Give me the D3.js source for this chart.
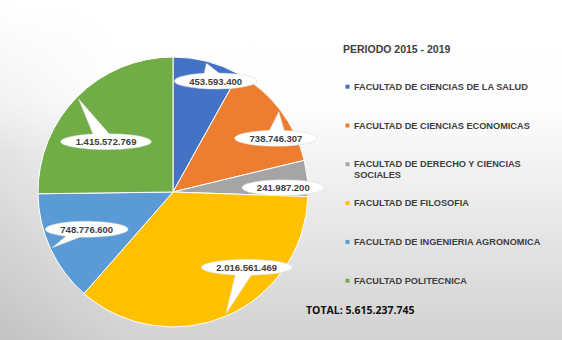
<!DOCTYPE html>
<html>
<head>
<meta charset="utf-8">
<script src="https://cdn.jsdelivr.net/npm/d3@7"></script>
<style>
  html, body { margin: 0; padding: 0; background: #fff; }
  svg { display: block; }
</style>
</head>
<body>
<svg id="chart" width="562" height="340"></svg>
<script>
// Faculties, in slice order (clockwise from 12 o'clock)
const faculties = [
  "FACULTAD DE CIENCIAS DE LA SALUD",
  "FACULTAD DE CIENCIAS ECONOMICAS",
  "FACULTAD DE DERECHO Y CIENCIAS SOCIALES",
  "FACULTAD DE FILOSOFIA",
  "FACULTAD DE INGENIERIA AGRONOMICA",
  "FACULTAD POLITECNICA"
];
// Amount per faculty for the period
const amounts = [453593400, 738746307, 241987200, 2016561469, 748776600, 1415572769];
const sliceColors = ["#4472C4", "#ED7D31", "#A5A5A5", "#FFC000", "#5B9BD5", "#70AD47"];
const periodTitle = "PERIODO 2015 - 2019";
const totalPrefix = "TOTAL: ";

// Callout bubble placement: centre offset as a fraction of the radius,
// and whether the bubble's pointer is drawn
const calloutOffsets = [[0.316, -0.822], [0.763, -0.398], [0.817, -0.032], [0.546, 0.558], [-0.639, 0.276], [-0.496, -0.373]];
const calloutPointer = [true, true, false, true, true, true];

const W = 562, H = 340;
const cx = 173, cy = 192, R = 135;

const esLocale = d3.formatLocale({ decimal: ",", thousands: ".", grouping: [3], currency: ["", ""] });
const fmt = esLocale.format(",");

const svg = d3.select("#chart");
const defs = svg.append("defs");

// Backdrop: white fading to light grey towards the bottom
const bg = defs.append("linearGradient").attr("id", "bg").attr("x1", 0).attr("y1", 0).attr("x2", 0).attr("y2", 1);
bg.append("stop").attr("offset", "0%").attr("stop-color", "#ffffff");
bg.append("stop").attr("offset", "30%").attr("stop-color", "#fefefe");
bg.append("stop").attr("offset", "100%").attr("stop-color", "#d2d2d2");
svg.append("rect").attr("width", W).attr("height", H).attr("fill", "url(#bg)");

const side = defs.append("linearGradient").attr("id", "side").attr("x1", 0).attr("y1", 0).attr("x2", 1).attr("y2", 0);
side.append("stop").attr("offset", "0%").attr("stop-color", "#000").attr("stop-opacity", 0.07);
side.append("stop").attr("offset", "100%").attr("stop-color", "#000").attr("stop-opacity", 0);
const sideFade = defs.append("linearGradient").attr("id", "sideFade").attr("x1", 0).attr("y1", 0).attr("x2", 0).attr("y2", 1);
sideFade.append("stop").attr("offset", "0%").attr("stop-color", "#fff").attr("stop-opacity", 0);
sideFade.append("stop").attr("offset", "45%").attr("stop-color", "#fff").attr("stop-opacity", 1);
sideFade.append("stop").attr("offset", "100%").attr("stop-color", "#fff").attr("stop-opacity", 1);
const mask = defs.append("mask").attr("id", "sideMask");
mask.append("rect").attr("width", 120).attr("height", H).attr("fill", "url(#sideFade)");
svg.append("rect").attr("width", 120).attr("height", H).attr("fill", "url(#side)").attr("mask", "url(#sideMask)");

// Pie
const pie = d3.pie().sort(null).value(d => d);
const arcs = pie(amounts);
const arc = d3.arc().innerRadius(0).outerRadius(R);

const g = svg.append("g").attr("transform", `translate(${cx},${cy})`);
g.selectAll("path.slice")
  .data(arcs)
  .join("path")
  .attr("class", "slice")
  .attr("d", arc)
  .attr("fill", (d, i) => sliceColors[i])
  .attr("stroke", "#ffffff")
  .attr("stroke-width", 1);

// Callout bubbles: ellipse with a wedge pointing into the slice
const callouts = g.selectAll("g.callout")
  .data(arcs)
  .join("g")
  .attr("class", "callout");

callouts.each(function (d, i) {
  const grp = d3.select(this);
  const ox = calloutOffsets[i][0] * R, oy = calloutOffsets[i][1] * R;
  const label = grp.append("text")
    .attr("x", ox).attr("y", oy)
    .attr("text-anchor", "middle")
    .attr("dominant-baseline", "central")
    .attr("font-family", "'Liberation Sans', Arial, sans-serif")
    .attr("font-size", 9.5)
    .attr("font-weight", "bold")
    .attr("fill", "#404040")
    .text(fmt(d.value));
  const tw = label.node().getComputedTextLength();
  const a = (tw + 30) / 2, b = 8;

  let shape;
  if (calloutPointer[i]) {
    const mid = (d.startAngle + d.endAngle) / 2;
    const tr = R * 0.985;
    const tx = Math.sin(mid) * tr, ty = -Math.cos(mid) * tr;
    const th = Math.atan2((ty - oy) / b, (tx - ox) / a);
    const dl = 0.18;
    const p1 = [ox + a * Math.cos(th - dl), oy + b * Math.sin(th - dl)];
    const p2 = [ox + a * Math.cos(th + dl), oy + b * Math.sin(th + dl)];
    shape = `M${p2[0]},${p2[1]}L${tx},${ty}L${p1[0]},${p1[1]}A${a},${b} 0 1 0 ${p2[0]},${p2[1]}Z`;
  } else {
    shape = `M${ox - a},${oy}A${a},${b} 0 1 0 ${ox + a},${oy}A${a},${b} 0 1 0 ${ox - a},${oy}Z`;
  }
  grp.insert("path", "text")
    .attr("d", shape)
    .attr("fill", "#ffffff")
    .attr("stroke", "#d4d4d4")
    .attr("stroke-width", 0.5);
});

// Legend
const legendX = 354, titleY = 48.5, firstY = 86.7, stepY = 38.8, wrapWidth = 205;
svg.append("text")
  .attr("x", 343).attr("y", titleY)
  .attr("dominant-baseline", "central")
  .attr("font-family", "'Liberation Sans', Arial, sans-serif")
  .attr("font-size", 10.5)
  .attr("font-weight", "bold")
  .attr("fill", "#404040")
  .text(periodTitle);

const legend = svg.append("g");
faculties.forEach((name, i) => {
  const y = firstY + i * stepY;
  legend.append("rect")
    .attr("x", legendX - 8.5).attr("y", y - 2)
    .attr("width", 4).attr("height", 4)
    .attr("fill", sliceColors[i]);
  const t = legend.append("text")
    .attr("x", legendX).attr("y", y)
    .attr("dominant-baseline", "central")
    .attr("font-family", "'Liberation Sans', Arial, sans-serif")
    .attr("font-size", 9.2)
    .attr("font-weight", "bold")
    .attr("fill", "#404040");
  // wrap long names onto a second line
  const words = name.split(" ");
  let line = [], lineNo = 0;
  let tspan = t.append("tspan").attr("x", legendX).attr("dy", 0);
  words.forEach(w => {
    line.push(w);
    tspan.text(line.join(" "));
    if (tspan.node().getComputedTextLength() > wrapWidth && line.length > 1) {
      line.pop();
      tspan.text(line.join(" "));
      line = [w];
      lineNo++;
      tspan = t.append("tspan").attr("x", legendX).attr("dy", 10.5).text(w);
    }
  });
});

// Grand total
svg.append("text")
  .attr("x", 306).attr("y", 309.5)
  .attr("dominant-baseline", "central")
  .attr("font-family", "'Open Sans', sans-serif")
  .attr("font-size", 10.5)
  .attr("font-weight", "bold")
  .attr("fill", "#111111")
  .text(totalPrefix + fmt(d3.sum(amounts)));
</script>
</body>
</html>
